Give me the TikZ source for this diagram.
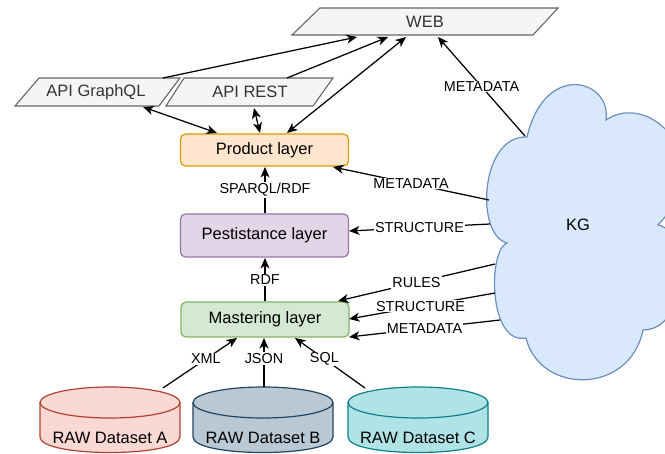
\documentclass[tikz,border=0pt]{standalone}
\usepackage{fontspec}
\setmainfont{Liberation Sans}
\usetikzlibrary{arrows.meta}
\definecolor{parfill}{HTML}{F5F5F5}
\definecolor{pardraw}{HTML}{666666}
\definecolor{partext}{HTML}{333333}
\definecolor{prodfill}{HTML}{FFE6CC}
\definecolor{proddraw}{HTML}{D79B00}
\definecolor{pestfill}{HTML}{E1D5E7}
\definecolor{pestdraw}{HTML}{9673A6}
\definecolor{mastfill}{HTML}{D5E8D4}
\definecolor{mastdraw}{HTML}{82B366}
\definecolor{kgfill}{HTML}{DAE8FC}
\definecolor{kgdraw}{HTML}{6C8EBF}
\definecolor{afill}{HTML}{FAD9D5}
\definecolor{adraw}{HTML}{AE4132}
\definecolor{bfill}{HTML}{BAC8D3}
\definecolor{bdraw}{HTML}{23445D}
\definecolor{cfill}{HTML}{B0E3E6}
\definecolor{cdraw}{HTML}{0E8088}
\tikzset{
  nodefont/.style={font=\fontsize{16.5}{19}\selectfont},
  lblfont/.style={font=\fontsize{14.4}{17}\selectfont},
  para/.style={fill=parfill, draw=pardraw, line width=1.1pt},
  layerbox/.style={rounded corners=5pt, line width=1.2pt, minimum width=168pt, inner sep=0pt, nodefont},
  tip/.tip={Stealth[length=10.5pt,width=9pt,inset=3pt]},
  conn/.style={line width=1.25pt, -tip},
  biconn/.style={line width=1.25pt, tip-tip},
  elabel/.style={fill=white, inner sep=1pt, lblfont},
  cyl/.style={line width=1.2pt}
}
\begin{document}
\begin{tikzpicture}[x=1pt,y=-1pt]
\useasboundingbox (0,0) rectangle (665,454);

% ---------- parallelograms ----------
\draw[para] (320,8) -- (558,8) -- (533,35) -- (292,35) -- cycle;
\node[nodefont, text=partext] (web) at (425,21.5) {WEB};
\draw[para] (39,78) -- (180,78) -- (159,106) -- (15,106) -- cycle;
\node[nodefont, text=partext] (gql) at (96,92) {API GraphQL};
\draw[para] (184,78) -- (333,78) -- (313,106) -- (166,106) -- cycle;
\node[nodefont, text=partext] (rest) at (250,92) {API REST};

% ---------- layers ----------
\node[layerbox, fill=prodfill, draw=proddraw, minimum height=32pt] (prod) at (264.5,150) {Product layer};
\node[layerbox, fill=pestfill, draw=pestdraw, minimum height=43pt] (pest) at (264.5,235.5) {Pestistance layer};
\node[layerbox, fill=mastfill, draw=mastdraw, minimum height=35pt] (mast) at (265,319.5) {Mastering layer};

% ---------- cylinders ----------
\foreach \cx/\fc/\dc/\nm/\lab in {110/afill/adraw/cylA/A, 263/bfill/bdraw/cylB/B, 418/cfill/cdraw/cylC/C}{
  \fill[\fc] (\cx-70,402.5) -- (\cx-70,437) .. controls (\cx-70,457.7) and (\cx+70,457.7) .. (\cx+70,437) -- (\cx+70,402.5) -- cycle;
  \draw[cyl, draw=\dc] (\cx-70,402.5) -- (\cx-70,437) .. controls (\cx-70,457.7) and (\cx+70,457.7) .. (\cx+70,437) -- (\cx+70,402.5);
  \draw[cyl, draw=\dc, fill=\fc] (\cx,402.5) ellipse [x radius=70pt, y radius=15.5pt];
  \node[nodefont] (\nm) at (\cx,438) {RAW Dataset \lab};
}

% ---------- cloud ----------
\draw[fill=kgfill, draw=kgdraw, line width=1.2pt]
  (527,137) .. controls (545,60) and (612,80) .. (606,120)
  .. controls (650,90) and (720,160) .. (658,225)
  .. controls (690,230) and (690,330) .. (643,330)
  .. controls (630,395) and (540,395) .. (526,338)
  .. controls (488,345) and (488,250) .. (507,243)
  .. controls (475,235) and (480,135) .. (527,137) -- cycle;
\node[nodefont] (kg) at (578,225) {KG};

% ---------- connector end points ----------
\coordinate (web1) at (357,37);
\coordinate (web2) at (388,37);
\coordinate (web3) at (406,37);
\coordinate (web4) at (438,37);
\coordinate (gqlT) at (163,78);
\coordinate (gqlB) at (143,107);
\coordinate (restT) at (287,78);
\coordinate (restB) at (254,108);
\coordinate (prodT1) at (217,133);
\coordinate (prodT2) at (260,133);
\coordinate (prodT3) at (287,133);
\coordinate (prodR) at (333,167);
\coordinate (prodB) at (265,167);
\coordinate (pestT) at (265,213);
\coordinate (pestB) at (265,258);
\coordinate (pestR) at (349,231);
\coordinate (mastT) at (265,301);
\coordinate (mastR1) at (338,301);
\coordinate (mastR2) at (349,319);
\coordinate (mastR3) at (349,337);
\coordinate (mastB1) at (237,338);
\coordinate (mastB2) at (264,338);
\coordinate (mastB3) at (295,338);
\coordinate (cylAT) at (163,388);
\coordinate (cylBT) at (264,387);
\coordinate (cylCT) at (365,388);
\coordinate (kg1) at (525,136);
\coordinate (kg2) at (489,200);
\coordinate (kg3) at (490,224);
\coordinate (kg4) at (495,264);
\coordinate (kg5) at (495,293);
\coordinate (kg6) at (500,320);

% ---------- connectors ----------
\draw[conn] (gqlT) -- (web1);
\draw[conn] (restT) -- (web2);
\draw[biconn] (prodT3) -- (web3);
\draw[biconn] (gqlB) -- (prodT1);
\draw[biconn] (restB) -- (prodT2);

\draw[conn] (kg1) -- node[elabel, pos=0.5] {METADATA} (web4);
\draw[conn] (kg2) -- node[elabel, pos=0.5] {METADATA} (prodR);
\draw[conn] (kg3) -- node[elabel, pos=0.5] {STRUCTURE} (pestR);
\draw[conn] (kg4) -- node[elabel, pos=0.5] {RULES} (mastR1);
\draw[conn] (kg5) -- node[elabel, pos=0.51] {STRUCTURE} (mastR2);
\draw[conn] (kg6) -- node[elabel, pos=0.5] {METADATA} (mastR3);

\draw[conn] (pestT) -- node[elabel, pos=0.5] {SPARQL/RDF} (prodB);
\draw[conn] (mastT) -- node[elabel, pos=0.49] {RDF} (pestB);

\draw[conn] (cylAT) -- node[elabel, pos=0.58] {XML} (mastB1);
\draw[conn] (cylBT) -- node[elabel, pos=0.58] {JSON} (mastB2);
\draw[conn] (cylCT) -- node[elabel, pos=0.58] {SQL} (mastB3);
\end{tikzpicture}
\end{document}
